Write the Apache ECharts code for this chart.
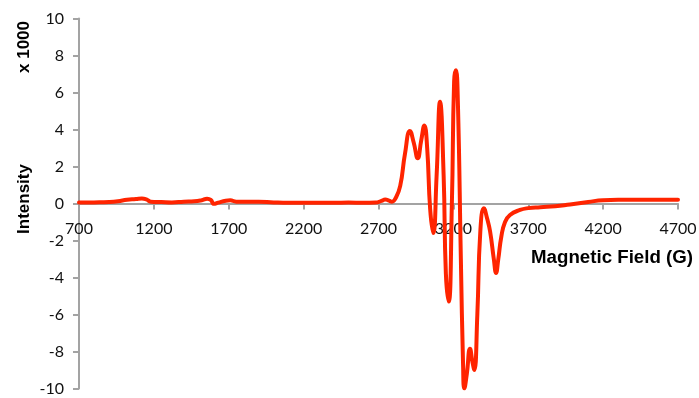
<!DOCTYPE html>
<html>
<head>
<meta charset="utf-8">
<script src="https://cdn.jsdelivr.net/npm/echarts@6/dist/echarts.min.js"></script>
<style>
  html, body { margin: 0; padding: 0; background: #fff; }
  #chart { width: 699px; height: 398px; }
</style>
</head>
<body>
<div id="chart"></div>
<script>
// EPR spectrum: field in gauss, intensity in thousands
const fieldG = [
  700, 800, 900, 960, 1020, 1080, 1120, 1150, 1180, 1250, 1320, 1400, 1470, 1520,
  1555, 1580, 1600, 1630, 1680, 1710, 1750, 1800, 1900, 2000, 2100, 2200, 2300,
  2400, 2500, 2600, 2680, 2720, 2745, 2770, 2790, 2815, 2845, 2877, 2910, 2935,
  2962, 2985, 3006, 3025, 3045, 3066, 3088, 3111, 3135, 3150, 3169, 3190, 3205,
  3217, 3230, 3250, 3265, 3273, 3290, 3311, 3328, 3340, 3360, 3380, 3404, 3425,
  3445, 3470, 3485, 3500, 3520, 3545, 3578, 3645, 3700, 3780, 3880, 3979, 4100,
  4199, 4300, 4450, 4600, 4700
];
const intensity = [
  0.05, 0.06, 0.08, 0.12, 0.2, 0.24, 0.27, 0.22, 0.1, 0.08, 0.06, 0.1, 0.12, 0.18,
  0.26, 0.2, -0.02, 0.05, 0.15, 0.17, 0.1, 0.1, 0.1, 0.06, 0.04, 0.04, 0.04,
  0.04, 0.05, 0.04, 0.05, 0.14, 0.22, 0.16, 0.1, 0.3, 0.95, 2.7, 3.92, 3.3,
  2.45, 3.4, 4.22, 3.0, -0.3, -1.6, 1.5, 5.5, 1.5, -3.8, -5.3, 0, 6.6,
  7.2, 5.5, -3, -8.8, -10.0, -9.2, -7.85, -8.6, -9.0, -6, -1.5, -0.26, -0.8,
  -1.5, -3.0, -3.75, -3.0, -1.8, -1.0, -0.62, -0.35, -0.25, -0.2, -0.15, -0.05, 0.08,
  0.18, 0.2, 0.2, 0.2, 0.2
];
const xTicks = { min: 700, max: 4700, step: 500 };
const yTicks = { min: -10, max: 10, step: 2 };

const W = 699, H = 398;
const gridBox = { left: 79, right: 21, top: 18.5, bottom: 9.5 };
// the field axis crosses the intensity axis at zero: lift it from the grid bottom
const plotH = H - gridBox.top - gridBox.bottom;
const zeroLift = plotH * (0 - yTicks.min) / (yTicks.max - yTicks.min);

const chart = echarts.init(document.getElementById('chart'), null, { renderer: 'canvas' });
const tickFont = 'Lato, "Open Sans", sans-serif';
const titleFont = '"Liberation Sans", Arial, sans-serif';
const axisGray = '#a3a3a3';
const plain = v => String(v);

chart.setOption({
  animation: false,
  backgroundColor: '#ffffff',
  grid: Object.assign({ containLabel: false, outerBoundsMode: 'none' }, gridBox),
  xAxis: {
    type: 'value',
    min: xTicks.min, max: xTicks.max, interval: xTicks.step,
    offset: -zeroLift,
    axisLine: { onZero: false, lineStyle: { color: axisGray, width: 2 } },
    axisTick: { show: true, inside: false, length: 6, lineStyle: { color: axisGray, width: 2 } },
    axisLabel: { margin: 17, color: '#111', fontFamily: tickFont, fontSize: 16, formatter: plain },
    splitLine: { show: false }
  },
  yAxis: {
    type: 'value',
    min: yTicks.min, max: yTicks.max, interval: yTicks.step,
    axisLine: { show: true, lineStyle: { color: axisGray, width: 2 } },
    axisTick: { show: true, inside: false, length: 6, lineStyle: { color: axisGray, width: 2 } },
    axisLabel: { margin: 15, color: '#111', fontFamily: tickFont, fontSize: 16, formatter: plain },
    splitLine: { show: false }
  },
  series: [{
    type: 'line',
    data: fieldG.map((f, i) => [f, intensity[i]]),
    showSymbol: false,
    smooth: 0.5,
    lineStyle: { color: '#ff2400', width: 4, cap: 'round', join: 'round' },
    z: 3
  }],
  graphic: [
    {
      type: 'text', x: 24, y: 199, rotation: Math.PI / 2,
      style: { text: 'Intensity', fontFamily: titleFont, fontWeight: 'bold', fontSize: 17,
               fill: '#000', textAlign: 'center', textVerticalAlign: 'middle' }
    },
    {
      type: 'text', x: 24, y: 47, rotation: Math.PI / 2,
      style: { text: 'x 1000', fontFamily: titleFont, fontWeight: 'bold', fontSize: 17,
               fill: '#000', textAlign: 'center', textVerticalAlign: 'middle' }
    },
    {
      type: 'text', x: 693, y: 258,
      style: { text: 'Magnetic Field (G)', fontFamily: titleFont, fontWeight: 'bold', fontSize: 18.7,
               fill: '#000', textAlign: 'right', textVerticalAlign: 'middle' }
    }
  ]
});
</script>
</body>
</html>
